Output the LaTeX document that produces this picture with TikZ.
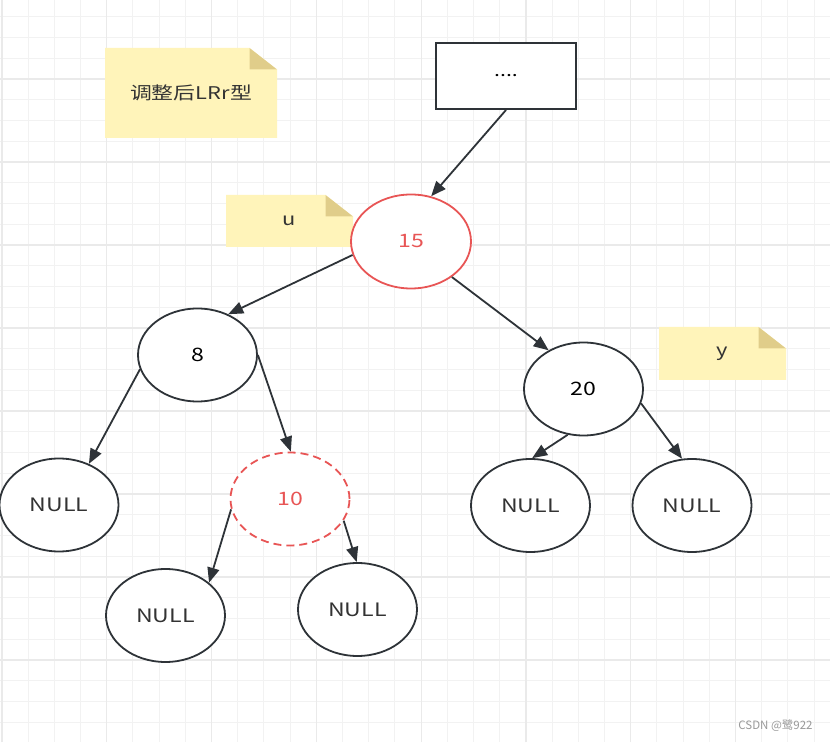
\documentclass[tikz,border=0pt]{standalone}
\usepackage{fontspec}
\setmainfont{Noto Sans CJK SC}[FakeStretch=1.25]
\newfontfamily\wmfont{Noto Sans CJK SC}
\usetikzlibrary{shapes.geometric,arrows.meta}
\definecolor{gridminor}{HTML}{F2F2F2}
\definecolor{gridmajor}{HTML}{EAEAEA}
\definecolor{notefill}{HTML}{FFF4BA}
\definecolor{foldfill}{HTML}{E0CD8A}
\definecolor{nodered}{HTML}{E85555}
\definecolor{ink}{HTML}{2E3338}
\definecolor{txt}{HTML}{333333}
\tikzset{
  notebox/.style={inner sep=0pt, text=txt, font=\fontsize{17.5}{20}\selectfont,
    path picture={
      \fill[notefill] (path picture bounding box.south west) -- (path picture bounding box.north west)
        -- ([xshift=-27.5pt]path picture bounding box.north east) -- ([yshift=-21.5pt]path picture bounding box.north east)
        -- (path picture bounding box.south east) -- cycle;
      \fill[foldfill] ([xshift=-27.5pt]path picture bounding box.north east) -- ([yshift=-21.5pt]path picture bounding box.north east)
        -- ([xshift=-27.5pt,yshift=-21.5pt]path picture bounding box.north east) -- cycle;
    }},
  treenode/.style={ellipse, draw=ink, line width=1.8pt, fill=white, inner sep=0pt,
    minimum width=119pt, minimum height=93pt, text=txt, font=\fontsize{18.5}{21}\selectfont},
  rednode/.style={treenode, draw=nodered, text=nodered},
  edge/.style={draw=ink, line width=1.8pt, -{Triangle[length=15pt,width=12pt]}},
}
\begin{document}
\begin{tikzpicture}[x=1pt,y=1pt]
\useasboundingbox (0,0) rectangle (830,742);
\fill[white] (0,0) rectangle (830,742);
% grid
\foreach \k in {0,...,31} \draw[gridminor, line width=1pt] ({1.9+26.2*\k},0) -- ++(0,742);
\foreach \j in {1,...,35} \draw[gridminor, line width=1pt] (0,{746-20.75*\j}) -- ++(830,0);
\foreach \k in {0,4,...,28} \draw[gridmajor, line width=1.2pt] ({1.9+26.2*\k},0) -- ++(0,742);
\foreach \j in {4,8,...,32} \draw[gridmajor, line width=1.2pt] (0,{746-20.75*\j}) -- ++(830,0);

% notes
\node[notebox, minimum width=172pt, minimum height=90pt] (title) at (191,649) {调整后LRr型};
\node[notebox, minimum width=127pt, minimum height=52pt] (noteu) at (289.5,521) {u};
\node[notebox, minimum width=127pt, minimum height=53pt] (notey) at (722.5,388.5) {y};

% top box
\node[draw=ink, line width=2pt, fill=white, minimum width=140pt, minimum height=66pt, inner sep=0pt,
  font=\fontsize{17}{20}\selectfont] (dots) at (506,666) {....};

% tree nodes
\node[rednode, minimum width=120pt, minimum height=94pt] (n15) at (411,500.5) {15};
\node[treenode, text=black] (n8) at (197.5,387) {8};
\node[treenode] (nl) at (59,237) {NULL};
\node[rednode, dashed, dash pattern=on 8pt off 5pt] (n10) at (290,243) {10};
\node[treenode] (na) at (165.5,126.5) {NULL};
\node[treenode] (nb) at (357.5,132.5) {NULL};
\node[treenode, text=black] (n20) at (583.5,353) {20};
\node[treenode] (nc) at (530.5,236.5) {NULL};
\node[treenode] (nd) at (692,236.5) {NULL};

% edges
\draw[edge] (dots.south) -- (n15.66);
\draw[edge] (n15.193) -- (n8.53);
\draw[edge] (n15.319) -- (n20.132);
\draw[edge] (n8.194) -- (nl.54);
\draw[edge] (n8.0) -- (n10.89);
\draw[edge] (n10.190) -- (na.37);
\draw[edge] (n10.338) -- (nb.91);
\draw[edge] (n20.251) -- (nc.88);
\draw[edge] (n20.346) -- (nd.102);

% watermark
\node[text=gray!80, font=\wmfont\fontsize{11.5}{13}\selectfont, inner sep=0pt] (wm) at (775.5,16) {CSDN @鹭922};
\end{tikzpicture}
\end{document}
